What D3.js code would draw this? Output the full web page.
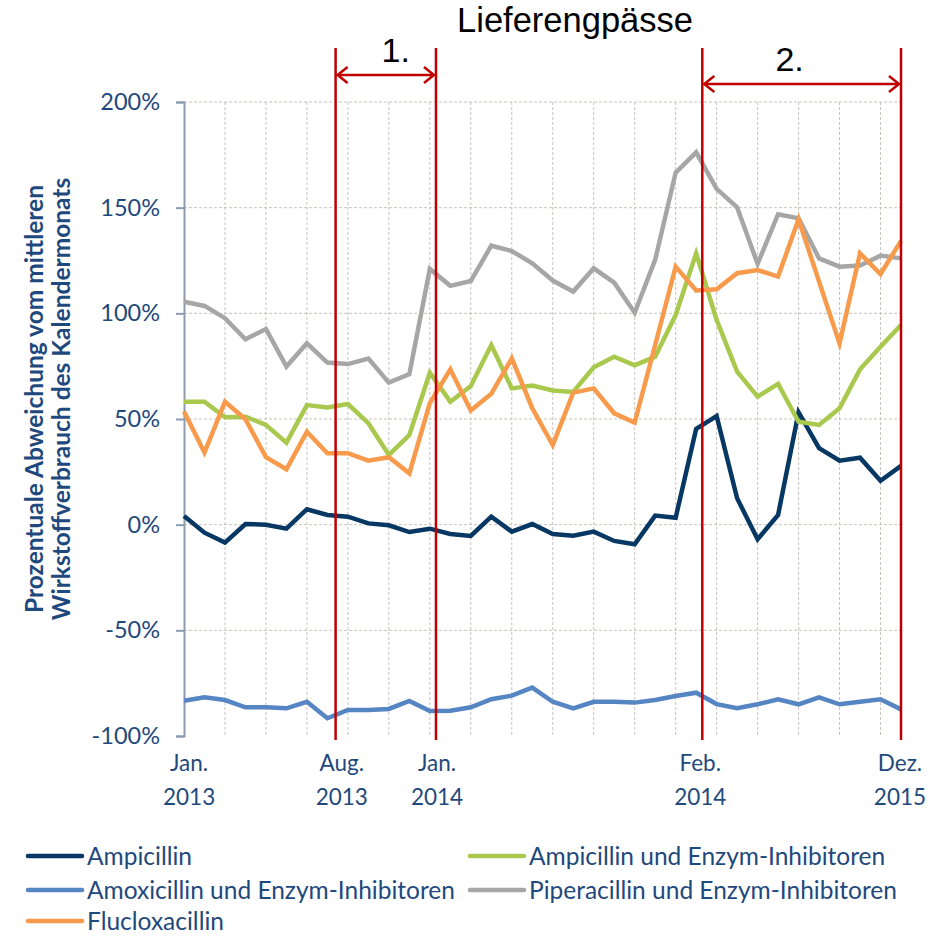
<!DOCTYPE html>
<html>
<head>
<meta charset="utf-8">
<script src="https://cdn.jsdelivr.net/npm/d3@7"></script>
<style>
  body { margin: 0; background: #fff; }
  text { font-family: Lato, "Open Sans", sans-serif; }
</style>
</head>
<body>
<div id="chart"></div>
<script>
// months Jan 2013 .. Dec 2015, one value per month (index 0..35)
const ampicillin = [4.1, -3.8, -8.5, 0.3, 0, -1.9, 7.3, 4.6, 3.8, 0.6, -0.3, -3.5,
  -1.9, -4.4, -5.3, 3.8, -3.3, 0.3, -4.4, -5.2, -3.3, -7.7, -9.3, 4.3,
  3.3, 45.3, 51.4, 12.5, -6.9, 4.6, 53.2, 36.2, 30.3, 31.7, 20.8, 27.8];
const ampicillinEI = [58.2, 58.2, 50.8, 51.1, 47.2, 38.8, 56.6, 55.5, 57.1, 48, 33, 42.4,
  71.9, 58.2, 65.6, 85, 64.5, 65.8, 63.5, 62.8, 74.5, 79.5, 75.4, 79.5,
  99.2, 128.4, 96.9, 72.4, 60.6, 66.6, 48.7, 47.2, 55.1, 73.5, 84.2, 94.5];
const amoxicillinEI = [-83.3, -81.7, -83, -86.4, -86.4, -86.9, -83.8, -91.6, -87.7, -87.7, -87.2, -83.4,
  -88.2, -88, -86.4, -82.6, -80.9, -77.1, -83.8, -86.9, -83.8, -83.8, -84.2, -83,
  -81.1, -79.5, -84.9, -86.9, -85, -82.6, -85, -81.7, -85, -83.8, -82.6, -87.4];
const piperacillinEI = [105.5, 103.5, 97.7, 87.7, 92.6, 74.8, 85.8, 76.7, 76, 78.6, 67.2, 71.2,
  121, 113, 115.3, 132, 129.5, 123.7, 115.5, 110.3, 121.3, 114.5, 100.3, 125.3,
  166.6, 176.2, 158.9, 150.2, 123.4, 146.9, 145, 126, 122.1, 122.6, 127.3, 126];
const flucloxacillin = [53.5, 34.1, 58.2, 49.9, 31.9, 26.2, 44, 33.8, 33.8, 30.3, 31.9, 24.3,
  57.5, 73.5, 54, 61.9, 78.7, 55.1, 37.7, 62.5, 64.5, 52.7, 48.3, 85,
  122.1, 110.8, 111.4, 119, 120.5, 117.4, 144.5, 115, 85.8, 128.4, 118.6, 134.3];

const seriesNames = ["Ampicillin", "Ampicillin und Enzym-Inhibitoren", "Amoxicillin und Enzym-Inhibitoren",
  "Piperacillin und Enzym-Inhibitoren", "Flucloxacillin"];
const seriesValues = [ampicillin, ampicillinEI, amoxicillinEI, piperacillinEI, flucloxacillin];
const seriesColors = ["#073763", "#a9c84e", "#5585c2", "#a6a6a6", "#f79a4b"];

const yTicks = [-100, -50, 0, 50, 100, 150, 200];
// hand-placed month labels (position as month index)
const xLabelPos = [0.25, 7.7, 12.35, 25.2, 34.95];
const xLabelMonth = ["Jan.", "Aug.", "Jan.", "Feb.", "Dez."];
const xLabelYear = ["2013", "2013", "2014", "2014", "2015"];
// supply shortage periods (month index)
const shortageFrom = [7.4, 25.3];
const shortageTo = [12.3, 35];
const shortageLabel = ["1.", "2."];

const width = 938, height = 937;
const textColor = "#1f497d";
const red = "#c00000";

const svg = d3.select("#chart").append("svg")
  .attr("width", width)
  .attr("height", height);

const x = d3.scaleLinear().domain([0, 35]).range([184, 901]);
const y = d3.scaleLinear().domain([-100, 200]).range([736, 102]);

// horizontal grid
svg.append("g")
  .selectAll("line")
  .data(yTicks.slice(1))
  .join("line")
  .attr("x1", x(0)).attr("x2", x(35))
  .attr("y1", d => y(d)).attr("y2", d => y(d))
  .attr("stroke", "#c8c3bd").attr("stroke-width", 1)
  .attr("stroke-dasharray", "3,2");

// vertical grid every 2 months
svg.append("g")
  .selectAll("line")
  .data(d3.range(2, 36, 2))
  .join("line")
  .attr("x1", d => x(d)).attr("x2", d => x(d))
  .attr("y1", y(200)).attr("y2", y(-100))
  .attr("stroke", "#c8c3bd").attr("stroke-width", 1)
  .attr("stroke-dasharray", "3,2");

// y axis
const yAxis = svg.append("g")
  .attr("transform", `translate(${x(0)},0)`)
  .call(d3.axisLeft(y).tickValues(yTicks).tickSize(8).tickPadding(16).tickFormat(d => d + "%"));
yAxis.select(".domain").attr("stroke", "#8c9bb0").attr("stroke-width", 2);
yAxis.selectAll(".tick line").attr("stroke", "#8c9bb0").attr("stroke-width", 2);
yAxis.selectAll(".tick text")
  .attr("fill", textColor)
  .style("font-size", "23.5px");

// y axis title, two rotated lines
svg.append("g")
  .selectAll("text")
  .data(["Prozentuale Abweichung vom mittleren", "Wirkstoffverbrauch des Kalendermonats"])
  .join("text")
  .attr("transform", (d, i) => `translate(${43 + i * 27},399) rotate(-90)`)
  .attr("text-anchor", "middle")
  .attr("fill", textColor)
  .style("font-size", "24.5px")
  .style("font-weight", "bold")
  .text(d => d);

// x labels
const xl = svg.append("g").selectAll("text")
  .data(xLabelPos)
  .join("text")
  .attr("text-anchor", "middle")
  .attr("fill", textColor)
  .style("font-size", "22.5px");
xl.append("tspan").attr("x", d => x(d)).attr("y", 771).text((d, i) => xLabelMonth[i]);
xl.append("tspan").attr("x", d => x(d)).attr("y", 805).text((d, i) => xLabelYear[i]);

// lines
const line = d3.line()
  .x((d, i) => x(i))
  .y(d => y(d));

svg.append("g")
  .selectAll("path")
  .data(seriesValues)
  .join("path")
  .attr("d", line)
  .attr("fill", "none")
  .attr("stroke", (d, i) => seriesColors[i])
  .attr("stroke-width", 4.5)
  .attr("stroke-linejoin", "miter");

// shortage markers
const shortages = svg.append("g");
const bounds = shortageFrom.concat(shortageTo);
shortages.selectAll("line.mark")
  .data(bounds)
  .join("line")
  .attr("class", "mark")
  .attr("x1", d => x(d)).attr("x2", d => x(d))
  .attr("y1", 48).attr("y2", 740)
  .attr("stroke", red).attr("stroke-width", 2.5);

const arrowY = [75, 84];
const labelShift = [10, -12];
shortageFrom.forEach((from, i) => {
  const x0 = x(from) + 2, x1 = x(shortageTo[i]) - 2, ay = arrowY[i];
  const g = shortages.append("g")
    .attr("fill", "none").attr("stroke", red).attr("stroke-width", 2.5);
  g.append("line").attr("x1", x0).attr("x2", x1).attr("y1", ay).attr("y2", ay);
  g.append("path").attr("d", `M${x0 + 10},${ay - 8}L${x0},${ay}L${x0 + 10},${ay + 8}`);
  g.append("path").attr("d", `M${x1 - 10},${ay - 8}L${x1},${ay}L${x1 - 10},${ay + 8}`);
  svg.append("text")
    .attr("x", (x(from) + x(shortageTo[i])) / 2 + labelShift[i])
    .attr("y", ay - 13)
    .attr("text-anchor", "middle")
    .attr("fill", "#000")
    .style("font-family", "'Liberation Sans Narrow', 'Liberation Sans', sans-serif")
    .style("font-size", "34px")
    .text(shortageLabel[i]);
});

svg.append("text")
  .attr("x", 575).attr("y", 32)
  .attr("text-anchor", "middle")
  .attr("fill", "#000")
  .style("font-family", "'Liberation Sans Narrow', 'Liberation Sans', sans-serif")
  .style("font-size", "34.5px")
  .text("Lieferengpässe");

// legend, two columns filled row by row
const legend = svg.append("g").selectAll("g")
  .data(seriesNames)
  .join("g")
  .attr("transform", (d, i) => `translate(${i % 2 ? 470 : 28},${[856, 890, 921][Math.floor(i / 2)]})`);
legend.append("line")
  .attr("x1", 0).attr("x2", 54)
  .attr("stroke", (d, i) => seriesColors[i])
  .attr("stroke-width", 4.5)
  .attr("stroke-linecap", "round");
legend.append("text")
  .attr("x", 59).attr("dy", "0.35em")
  .attr("fill", textColor)
  .style("font-size", "24.5px")
  .text(d => d);
</script>
</body>
</html>
